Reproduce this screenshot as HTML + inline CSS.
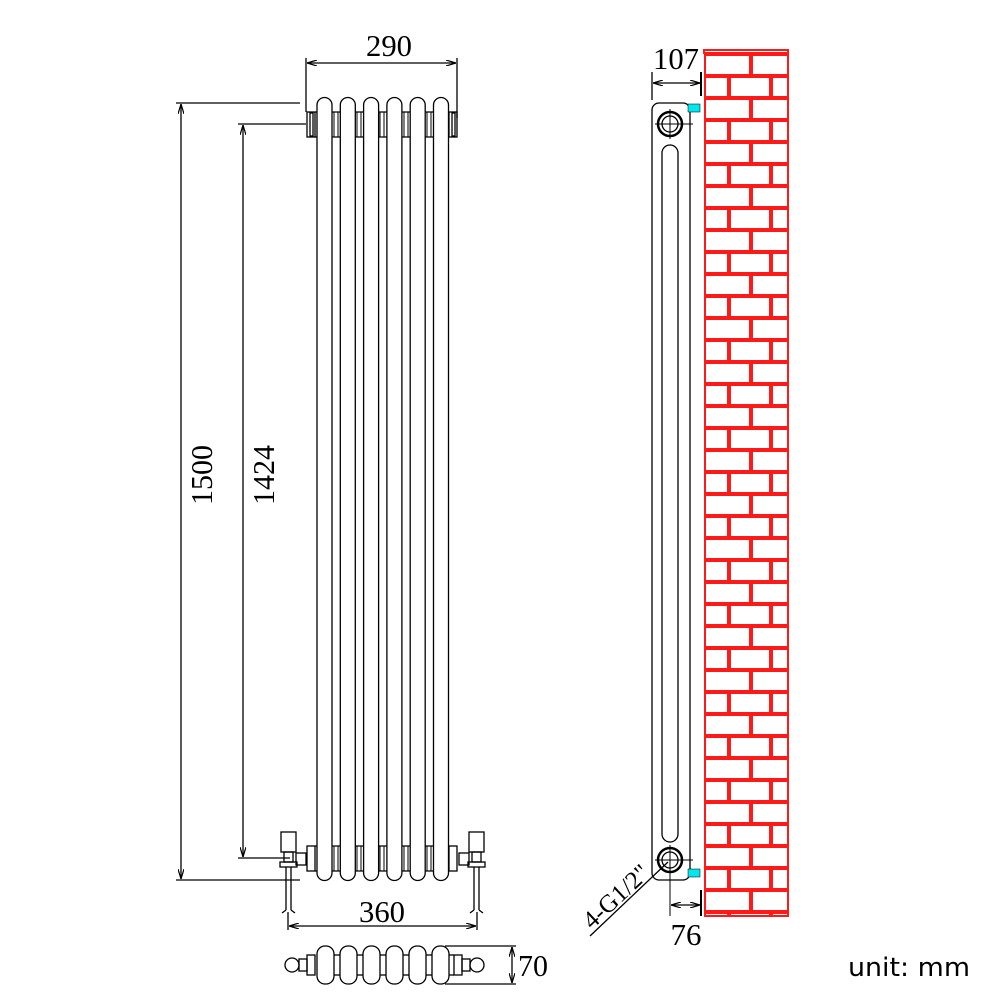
<!DOCTYPE html>
<html><head><meta charset="utf-8"><style>
html,body{margin:0;padding:0;background:#fff}
svg{display:block}
text{font-family:"Liberation Serif",serif;fill:#000}
</style></head><body>
<svg width="1001" height="1001" viewBox="0 0 1001 1001" xmlns="http://www.w3.org/2000/svg">
<defs>
<marker id="ar" viewBox="0 0 10 6" refX="10" refY="3" markerWidth="10" markerHeight="6" orient="auto-start-reverse" markerUnits="userSpaceOnUse"><path d="M0,0 L10,3 L0,6" fill="none" stroke="#000" stroke-width="1.2"/></marker>
</defs>
<g stroke="#000" stroke-width="1.3" fill="none">
<line x1="306" y1="58" x2="306" y2="112"/><line x1="457" y1="58" x2="457" y2="118"/>
<line x1="307" y1="63" x2="456" y2="63" marker-start="url(#ar)" marker-end="url(#ar)"/>
<line x1="176" y1="103" x2="300" y2="103"/><line x1="176" y1="880" x2="300" y2="880"/>
<line x1="181" y1="104" x2="181" y2="879" marker-start="url(#ar)" marker-end="url(#ar)"/>
<line x1="238" y1="124" x2="306" y2="124"/><line x1="238" y1="858" x2="290" y2="858"/>
<line x1="243" y1="125" x2="243" y2="857" marker-start="url(#ar)" marker-end="url(#ar)"/>
<rect x="307" y="112" width="8" height="25"/><rect x="310" y="113" width="3" height="23"/>
<rect x="449" y="112" width="8" height="25"/><rect x="452" y="113" width="3" height="23"/>
<rect x="307" y="846" width="8" height="25"/><rect x="449" y="846" width="8" height="25"/>
<g>
<line x1="315" y1="112" x2="449" y2="112"/><line x1="315" y1="137" x2="449" y2="137"/>
<line x1="315" y1="846" x2="449" y2="846"/><line x1="315" y1="871" x2="449" y2="871"/>
</g>
<g fill="#fff">
<path d="M317,880 V112 A7.5,7.5 0 0 1 332,112 V880 A7.5,7.5 0 0 1 317,880 Z" transform="translate(0,-7)"/>
<path d="M317,880 V112 A7.5,7.5 0 0 1 332,112 V880 A7.5,7.5 0 0 1 317,880 Z" transform="translate(23.3,-7)"/>
<path d="M317,880 V112 A7.5,7.5 0 0 1 332,112 V880 A7.5,7.5 0 0 1 317,880 Z" transform="translate(46.6,-7)"/>
<path d="M317,880 V112 A7.5,7.5 0 0 1 332,112 V880 A7.5,7.5 0 0 1 317,880 Z" transform="translate(69.9,-7)"/>
<path d="M317,880 V112 A7.5,7.5 0 0 1 332,112 V880 A7.5,7.5 0 0 1 317,880 Z" transform="translate(93.2,-7)"/>
<path d="M317,880 V112 A7.5,7.5 0 0 1 332,112 V880 A7.5,7.5 0 0 1 317,880 Z" transform="translate(116.5,-7)"/>
</g>
<g stroke-width="1">
<line x1="334" y1="112" x2="334" y2="137"/><line x1="338" y1="112" x2="338" y2="137"/>
<line x1="357" y1="112" x2="357" y2="137"/><line x1="361" y1="112" x2="361" y2="137"/>
<line x1="380" y1="112" x2="380" y2="137"/><line x1="384" y1="112" x2="384" y2="137"/>
<line x1="404" y1="112" x2="404" y2="137"/><line x1="408" y1="112" x2="408" y2="137"/>
<line x1="427" y1="112" x2="427" y2="137"/><line x1="431" y1="112" x2="431" y2="137"/>
<line x1="334" y1="846" x2="334" y2="871"/><line x1="338" y1="846" x2="338" y2="871"/>
<line x1="357" y1="846" x2="357" y2="871"/><line x1="361" y1="846" x2="361" y2="871"/>
<line x1="380" y1="846" x2="380" y2="871"/><line x1="384" y1="846" x2="384" y2="871"/>
<line x1="404" y1="846" x2="404" y2="871"/><line x1="408" y1="846" x2="408" y2="871"/>
<line x1="427" y1="846" x2="427" y2="871"/><line x1="431" y1="846" x2="431" y2="871"/>
</g>
<rect x="281" y="832" width="15" height="20"/><rect x="284" y="852" width="9" height="10"/>
<rect x="280" y="862" width="17" height="5"/><rect x="296" y="853" width="10" height="12"/>
<line x1="286" y1="867" x2="286" y2="910"/><line x1="291" y1="867" x2="291" y2="910"/>
<path d="M282,913 L286,910 M295,913 L291,910"/>
<rect x="469" y="832" width="15" height="20"/><rect x="472" y="852" width="9" height="10"/>
<rect x="468" y="862" width="17" height="5"/><rect x="459" y="853" width="10" height="12"/>
<line x1="474" y1="867" x2="474" y2="910"/><line x1="479" y1="867" x2="479" y2="910"/>
<path d="M470,913 L474,910 M483,913 L479,910"/>
<line x1="288" y1="912" x2="288" y2="930"/><line x1="477" y1="912" x2="477" y2="930"/>
<line x1="289" y1="926" x2="476" y2="926" marker-start="url(#ar)" marker-end="url(#ar)"/>
<circle cx="292" cy="965" r="7"/><circle cx="477" cy="965" r="7"/>
<rect x="299" y="959" width="8" height="12"/><rect x="462" y="959" width="8" height="12"/>
<rect x="307" y="955" width="8" height="20"/><rect x="454" y="955" width="8" height="20"/>
<g fill="#fff">
<rect x="317" y="946" width="17" height="38" rx="8"/><rect x="340" y="946" width="17" height="38" rx="8"/>
<rect x="363" y="946" width="17" height="38" rx="8"/><rect x="386" y="946" width="17" height="38" rx="8"/>
<rect x="409" y="946" width="17" height="38" rx="8"/><rect x="432" y="946" width="17" height="38" rx="8"/>
</g>
<line x1="334" y1="955" x2="340" y2="955"/><line x1="334" y1="975" x2="340" y2="975"/>
<line x1="357" y1="955" x2="363" y2="955"/><line x1="357" y1="975" x2="363" y2="975"/>
<line x1="380" y1="955" x2="386" y2="955"/><line x1="380" y1="975" x2="386" y2="975"/>
<line x1="403" y1="955" x2="409" y2="955"/><line x1="403" y1="975" x2="409" y2="975"/>
<line x1="426" y1="955" x2="432" y2="955"/><line x1="426" y1="975" x2="432" y2="975"/>
<line x1="449" y1="955" x2="454" y2="955"/><line x1="449" y1="975" x2="454" y2="975"/>
<line x1="445" y1="946" x2="516" y2="946"/><line x1="445" y1="984" x2="516" y2="984"/>
<line x1="512" y1="947" x2="512" y2="983" marker-start="url(#ar)" marker-end="url(#ar)"/>
<rect x="652" y="103" width="38" height="777" rx="7"/>
<rect x="662" y="145" width="16" height="697" rx="8"/>
<circle cx="670" cy="124" r="12" stroke-width="2.5"/><circle cx="670" cy="124" r="8"/>
<circle cx="670" cy="860" r="12" stroke-width="2.5"/><circle cx="670" cy="860" r="8"/>
<line x1="655" y1="124" x2="693" y2="124" stroke-width="1"/><line x1="670" y1="109" x2="670" y2="139" stroke-width="1"/>
<line x1="655" y1="860" x2="693" y2="860" stroke-width="1"/><line x1="670" y1="845" x2="670" y2="916" stroke-width="1"/>
<line x1="652" y1="72" x2="652" y2="100"/><line x1="701" y1="72" x2="701" y2="96" stroke-width="2"/>
<line x1="653" y1="83" x2="700" y2="83" marker-start="url(#ar)" marker-end="url(#ar)"/>
<line x1="701" y1="890" x2="701" y2="916" stroke-width="2"/>
<line x1="671" y1="905" x2="700" y2="905" marker-start="url(#ar)" marker-end="url(#ar)"/>
<line x1="590" y1="936" x2="668" y2="862"/>
</g>
<rect x="688" y="104" width="12" height="8" fill="#00e5ee" stroke="#000" stroke-width="0.5"/>
<rect x="688" y="869" width="12" height="8" fill="#00e5ee" stroke="#000" stroke-width="0.5"/>
<g id="wall" fill="none" stroke="#ff1a1a" stroke-width="2"></g>
<g font-size="31">
<text x="389" y="56" text-anchor="middle" textLength="46" lengthAdjust="spacingAndGlyphs">290</text>
<text x="676" y="69" text-anchor="middle" textLength="46" lengthAdjust="spacingAndGlyphs">107</text>
<text x="382" y="922" text-anchor="middle" textLength="46" lengthAdjust="spacingAndGlyphs">360</text>
<text x="686" y="945" text-anchor="middle" textLength="31" lengthAdjust="spacingAndGlyphs">76</text>
<text x="518" y="976" textLength="30" lengthAdjust="spacingAndGlyphs">70</text>
<text transform="translate(212,475) rotate(-90)" text-anchor="middle" textLength="60" lengthAdjust="spacingAndGlyphs">1500</text>
<text transform="translate(274,475) rotate(-90)" text-anchor="middle" textLength="60" lengthAdjust="spacingAndGlyphs">1424</text>
</g>
<text transform="translate(592,930) rotate(-43)" font-size="25">4-G1/2"</text>
<text x="848" y="976" font-size="26" textLength="122" lengthAdjust="spacingAndGlyphs" style="font-family:'DejaVu Sans','Liberation Sans',sans-serif">unit: mm</text>
</svg>
<script>
(function(){
var g=document.getElementById('wall'),s='';
function r(x1,y1,x2,y2){s+='<rect x="'+x1+'" y="'+y1+'" width="'+(x2-x1)+'" height="'+(y2-y1)+'"/>';}
r(704,50,788,53);
var y=55,i=0;
while(y<915){var y2=Math.min(y+20,916);
 if(i%2==0){r(705,y,750,y2);r(752,y,788,y2);}else{r(705,y,728,y2);r(730,y,770,y2);r(772,y,788,y2);}
 y+=22;i++;}
g.innerHTML=s;
})();
</script>
</body></html>
